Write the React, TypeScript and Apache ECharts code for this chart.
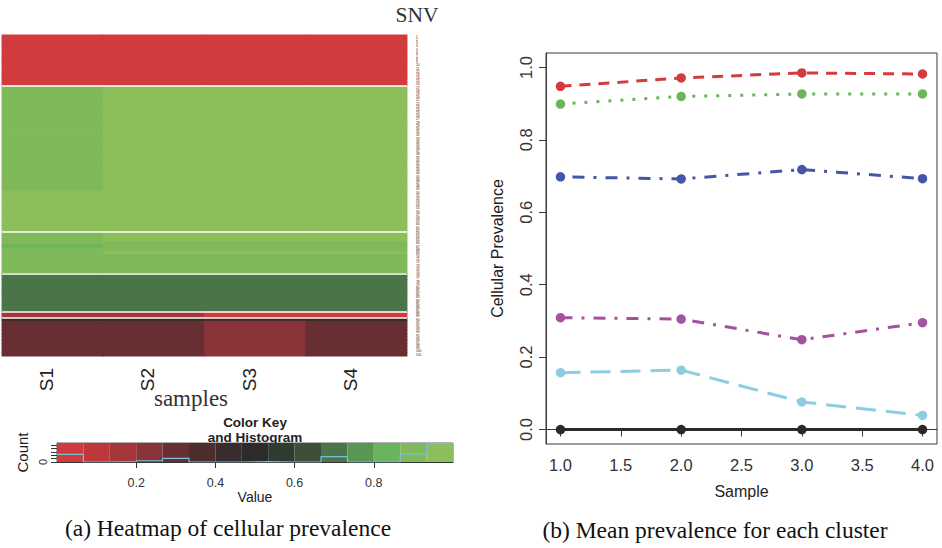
import React, { useEffect, useRef } from 'react';
import * as echarts from 'echarts';

const SANS = '"Liberation Sans", Arial, sans-serif';
const SERIF = '"Liberation Serif", "Times New Roman", serif';

const samples = ['S1', 'S2', 'S3', 'S4'];
const sampleX = [1, 2, 3, 4];

// SNV cellular prevalence as runs of identical rows, top to bottom:
// [number of SNVs, S1, S2, S3, S4]
const snvRuns: number[][] = [
  [16, 0.01, 0.01, 0.02, 0.01],
  [33, 0.925, 0.97, 0.985, 0.985],
  [13, 0.99, 0.975, 0.985, 0.98],
  [3, 0.9, 0.94, 0.95, 0.945],
  [1, 0.9, 0.92, 0.925, 0.925],
  [1, 0.85, 0.92, 0.925, 0.925],
  [1, 0.9, 0.915, 0.925, 0.92],
  [1, 0.9, 0.94, 0.945, 0.94],
  [6, 0.9, 0.915, 0.925, 0.925],
  [12, 0.7, 0.69, 0.72, 0.69],
  [2, 0.155, 0.165, 0.06, 0.04],
  [1, 0.5, 0.5, 0.5, 0.5],
  [11, 0.31, 0.305, 0.245, 0.295],
];

// SNVs per cluster, top to bottom; white separators go between clusters
const clusterSizes = [16, 46, 13, 12, 2, 12];

// Colour key: 15 equal bins over [0, 1], red -> black -> green
const keyColors = [
  '#d23b3d', '#bd383b', '#a5373a', '#883438', '#682f33',
  '#4e2d2e', '#3a2c2c', '#2d2c2c', '#2f3a30', '#3d4e3b',
  '#4a7549', '#599653', '#6bb45e', '#80b95a', '#8cbe5a',
];
const keyTicks = [0.2, 0.4, 0.6, 0.8];

// Mean cellular prevalence of each cluster per sample
const meanRed = [0.948, 0.971, 0.985, 0.982];
const meanGreen = [0.899, 0.92, 0.927, 0.927];
const meanBlue = [0.698, 0.692, 0.718, 0.693];
const meanPurple = [0.309, 0.305, 0.248, 0.295];
const meanCyan = [0.157, 0.164, 0.076, 0.039];
const meanBlack = [0, 0, 0, 0];
const prevTicks = [0, 0.2, 0.4, 0.6, 0.8, 1.0];
const sampleTicks = [1, 1.5, 2, 2.5, 3, 3.5, 4];

export default function App() {
  const ref = useRef<HTMLDivElement>(null);

  useEffect(() => {
    if (!ref.current) return;
    const chart = echarts.init(ref.current, null, { renderer: 'svg' });

    // expand runs into rows
    const rows: number[][] = [];
    snvRuns.forEach(([n, ...vals]) => {
      for (let k = 0; k < n; k++) rows.push(vals);
    });
    const snvIds = rows.map((_, i) => String(i + 1));
    const heatData: number[][] = [];
    rows.forEach((vals, r) => vals.forEach((v, c) => heatData.push([c, r, v])));

    // separators at cluster boundaries
    const seps: number[] = [];
    let acc = 0;
    clusterSizes.slice(0, -1).forEach((s) => {
      acc += s;
      seps.push(acc);
    });

    // histogram of all values over the key's bins
    const nb = keyColors.length;
    const counts = new Array(nb).fill(0);
    rows.forEach((vals) =>
      vals.forEach((v) => {
        counts[Math.min(nb - 1, Math.floor(v * nb))] += 1;
      })
    );
    const step: number[][] = [];
    counts.forEach((c, i) => {
      step.push([i / nb, c], [(i + 1) / nb, c]);
    });
    const maxCount = Math.max(...counts);
    const countMax = maxCount * 1.04;
    const countTicks: number[] = [];
    for (let t = 0; t <= countMax; t += 30) countTicks.push(t);

    const lineSeries = (
      name: string,
      vals: number[],
      color: string,
      dash: number[] | 'solid'
    ) => ({
      name,
      type: 'line',
      xAxisIndex: 2,
      yAxisIndex: 2,
      data: sampleX.map((x, i) => [x, vals[i]]),
      symbol: 'circle',
      symbolSize: 9.5,
      itemStyle: { color },
      lineStyle: { color, width: 3, type: dash, cap: 'butt' },
      z: 3,
    });

    chart.setOption({
      animation: false,
      backgroundColor: '#ffffff',
      textStyle: { fontFamily: SANS },
      grid: [
        { left: 2, top: 35, width: 405, height: 321 },
        {
          left: 546, top: 53, width: 391, height: 391,
          show: true, borderColor: '#3a3a3a', borderWidth: 1,
        },
        {
          left: 57, top: 443, width: 396, height: 19,
          show: true, borderColor: '#3a3a3a', borderWidth: 0.8,
        },
      ],
      xAxis: [
        {
          type: 'category', gridIndex: 0, data: samples,
          axisLine: { show: false }, axisTick: { show: false },
          axisLabel: {
            rotate: 90, fontSize: 19, color: '#222', margin: 12, fontFamily: SANS,
            verticalAlign: 'bottom', lineHeight: 12,
          },
        },
        { type: 'value', gridIndex: 0, min: 0, max: 1, show: false },
        {
          type: 'value', gridIndex: 1, min: 0.88, max: 4.12,
          splitLine: { show: false },
          axisLine: { show: true, lineStyle: { color: '#3a3a3a', width: 1 } },
          axisTick: { show: true, customValues: sampleTicks, length: 7, lineStyle: { color: '#3a3a3a' } },
          axisLabel: {
            customValues: sampleTicks, fontSize: 16.5, color: '#333', margin: 12,
            formatter: (v: number) => v.toFixed(1),
          },
          name: 'Sample', nameLocation: 'middle', nameGap: 39,
          nameTextStyle: { fontSize: 16, color: '#222' },
        },
        {
          type: 'value', gridIndex: 2, min: 0, max: 1,
          splitLine: { show: false },
          axisLine: { show: true, lineStyle: { color: '#333', width: 1 } },
          axisTick: { show: true, customValues: keyTicks, length: 6, lineStyle: { color: '#333' } },
          axisLabel: { customValues: keyTicks, fontSize: 12.5, color: '#333', margin: 14 },
          name: 'Value', nameLocation: 'middle', nameGap: 26,
          nameTextStyle: { fontSize: 14, color: '#222' },
        },
      ],
      yAxis: [
        {
          type: 'category', gridIndex: 0, data: snvIds, inverse: true, position: 'right',
          axisLine: { show: false }, axisTick: { show: false },
          axisLabel: { interval: 0, fontSize: 3.2, lineHeight: 3.2, color: '#111', margin: 9 },
        },
        { type: 'value', gridIndex: 0, min: 0, max: rows.length, inverse: true, show: false },
        {
          type: 'value', gridIndex: 1, min: -0.04, max: 1.04,
          splitLine: { show: false },
          axisLine: { show: true, lineStyle: { color: '#3a3a3a', width: 1 } },
          axisTick: { show: true, customValues: prevTicks, length: 7, lineStyle: { color: '#3a3a3a' } },
          axisLabel: {
            customValues: prevTicks, rotate: 90, fontSize: 16.5, color: '#333', margin: 12,
            formatter: (v: number) => v.toFixed(1),
          },
          name: 'Cellular Prevalence', nameLocation: 'middle', nameGap: 41,
          nameTextStyle: { fontSize: 16, color: '#222' },
        },
        {
          type: 'value', gridIndex: 2, min: 0, max: countMax,
          splitLine: { show: false },
          axisLine: { show: true, lineStyle: { color: '#333', width: 1 } },
          axisTick: { show: true, customValues: countTicks, length: 6, lineStyle: { color: '#333' } },
          axisLabel: { customValues: [0], rotate: 90, fontSize: 11, color: '#333', margin: 9 },
          name: 'Count', nameLocation: 'middle', nameGap: 27,
          nameTextStyle: { fontSize: 15, color: '#222' },
        },
      ],
      visualMap: {
        type: 'piecewise', show: false, seriesIndex: 0, dimension: 2,
        pieces: keyColors.map((color, i) => ({ gte: i / nb, lt: (i + 1) / nb, color })),
      },
      series: [
        {
          // heatmap cells, drawn slightly oversized so neighbours join without seams
          type: 'custom', xAxisIndex: 0, yAxisIndex: 0, data: heatData,
          encode: { x: 0, y: 1 }, silent: true,
          renderItem: (params: any, api: any) => {
            const c = api.coord([api.value(0), api.value(1)]);
            const s = api.size([1, 1]);
            return {
              type: 'rect',
              shape: { x: c[0] - s[0] / 2 - 0.4, y: c[1] - s[1] / 2 - 0.4, width: s[0] + 0.8, height: s[1] + 0.8 },
              style: { fill: api.visual('color'), stroke: null },
            };
          },
        },
        {
          type: 'line', xAxisIndex: 1, yAxisIndex: 1, data: [], silent: true,
          markLine: {
            silent: true, symbol: ['none', 'none'], label: { show: false },
            lineStyle: { color: '#ffffff', width: 1.6, type: 'solid' },
            data: seps.map((s) => ({ yAxis: s })),
          },
          z: 5,
        },
        lineSeries('red', meanRed, '#d33b3e', [11, 8]),
        lineSeries('green', meanGreen, '#6ab75a', [3, 9]),
        lineSeries('blue', meanBlue, '#4656a6', [3, 9, 12, 9]),
        lineSeries('purple', meanPurple, '#a4529f', [12, 9, 3, 9]),
        lineSeries('cyan', meanCyan, '#8dcde0', [20, 10]),
        lineSeries('black', meanBlack, '#2a2a2a', 'solid'),
        {
          type: 'line', xAxisIndex: 3, yAxisIndex: 3, data: step,
          symbol: 'none', silent: true,
          lineStyle: { color: '#78c0d8', width: 1.2 },
          markArea: {
            silent: true,
            data: keyColors.map((color, i) => [
              { xAxis: i / nb, itemStyle: { color, opacity: 1 } },
              { xAxis: (i + 1) / nb },
            ]),
          },
          z: 2,
        },
      ],
      graphic: [
        {
          type: 'text', x: 417, y: 15,
          style: { text: 'SNV', font: `21.5px ${SERIF}`, fill: '#333', align: 'center', verticalAlign: 'middle' },
        },
        {
          type: 'text', x: 191, y: 398,
          style: { text: 'samples', font: `23px ${SERIF}`, fill: '#333', align: 'center', verticalAlign: 'middle' },
        },
        {
          type: 'text', x: 255, y: 422,
          style: { text: 'Color Key', font: `bold 13.5px ${SANS}`, fill: '#222', align: 'center', verticalAlign: 'middle' },
        },
        {
          type: 'text', x: 255, y: 437,
          style: { text: 'and Histogram', font: `bold 13.5px ${SANS}`, fill: '#222', align: 'center', verticalAlign: 'middle' },
        },
        {
          type: 'text', x: 228, y: 528,
          style: { text: '(a) Heatmap of cellular prevalence', font: `23.5px ${SERIF}`, fill: '#111', align: 'center', verticalAlign: 'middle' },
        },
        {
          type: 'text', x: 715, y: 530,
          style: { text: '(b) Mean prevalence for each cluster', font: `23.5px ${SERIF}`, fill: '#111', align: 'center', verticalAlign: 'middle' },
        },
      ],
    });

    return () => chart.dispose();
  }, []);

  return (
    <div
      ref={ref}
      style={{ position: 'fixed', left: 0, top: 0, width: 942, height: 548, background: '#fff' }}
    />
  );
}
